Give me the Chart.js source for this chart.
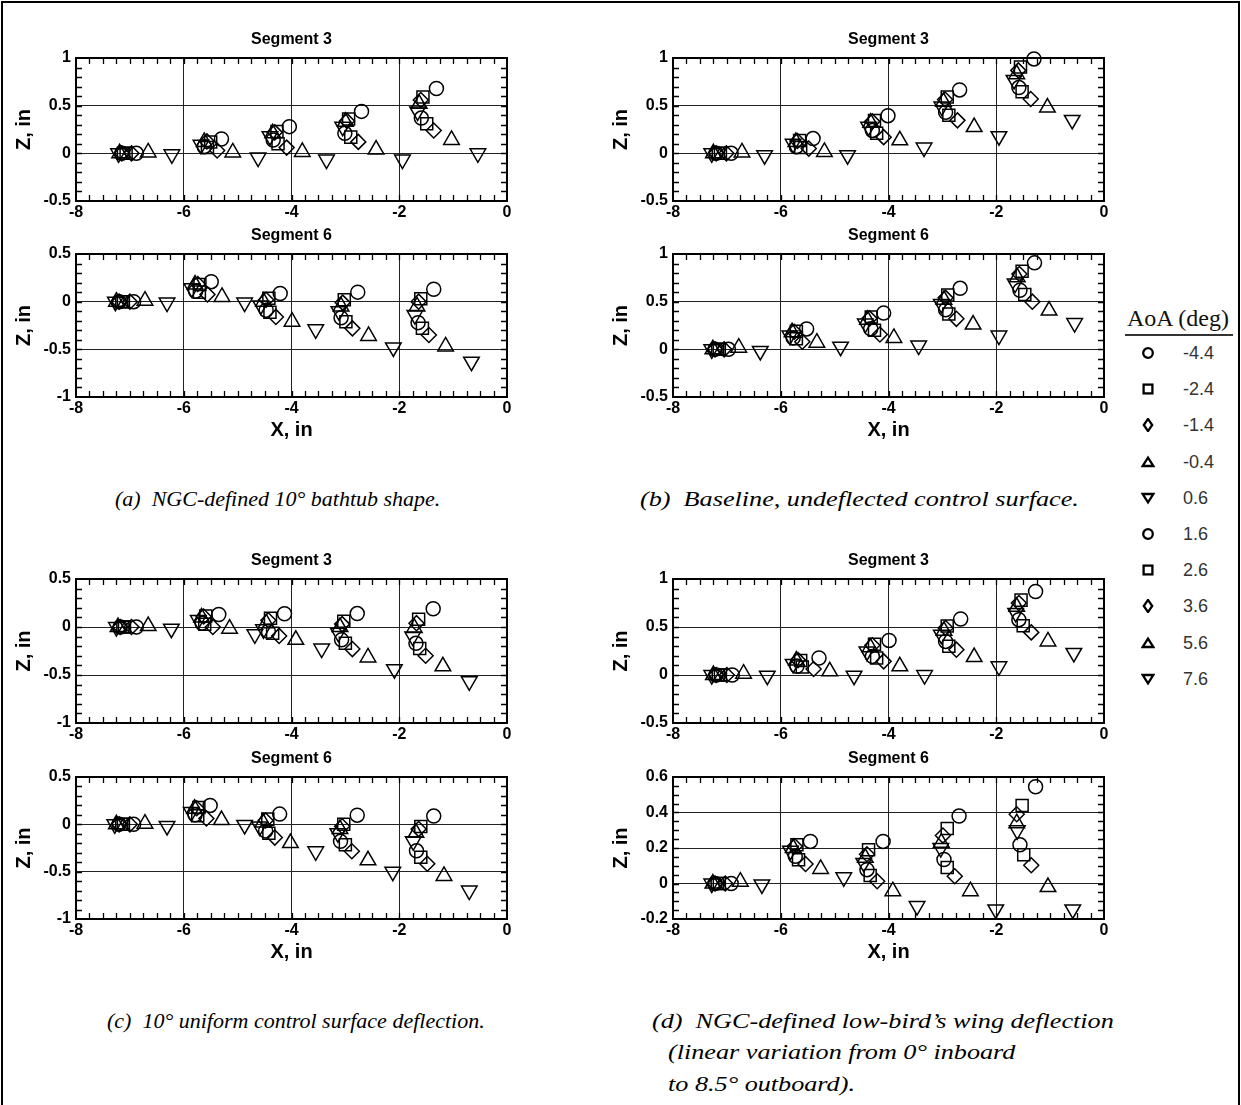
<!DOCTYPE html>
<html>
<head>
<meta charset="utf-8">
<script src="https://cdn.jsdelivr.net/npm/chart.js"></script>
<style>
  body { margin: 0; background: #fff; }
  #page { position: relative; width: 1241px; height: 1105px; overflow: hidden; background: #fff; }
  #frame { position: absolute; left: 1px; top: 1px; width: 1235px; height: 1120px; border: 2px solid #000; }
  canvas { position: absolute; }
  .caption { position: absolute; font-family: 'Liberation Serif', 'Times New Roman', serif; font-style: italic;
             font-size: 22px; line-height: 22px; white-space: pre; color: #000; }
  .caption.wide { transform: scaleX(1.19); transform-origin: 0 50%; }
  #legendTitle { position: absolute; left: 1127px; top: 306px; font-family: 'Liberation Serif', 'Times New Roman', serif;
                 font-size: 24px; line-height: 24px; color: #111; white-space: pre; }
  #legendRule { position: absolute; left: 1125px; top: 334px; width: 108px; height: 1.5px; background: #333; }
  .lgItem { position: absolute; left: 1141px; height: 18px; }
  .lgItem svg { position: absolute; left: 0; top: 2px; }
  .lgItem span { position: absolute; left: 42px; top: 0; font-family: 'Liberation Sans', Arial, sans-serif;
                 font-size: 18px; line-height: 18px; color: #333; white-space: pre; }
</style>
</head>
<body>
<div id="page">
  <div id="frame"></div>
  <canvas id="a3" width="509" height="194"></canvas>
  <canvas id="a6" width="509" height="213"></canvas>
  <canvas id="b3" width="509" height="194"></canvas>
  <canvas id="b6" width="509" height="213"></canvas>
  <canvas id="c3" width="509" height="194"></canvas>
  <canvas id="c6" width="509" height="212"></canvas>
  <canvas id="d3" width="509" height="194"></canvas>
  <canvas id="d6" width="509" height="212"></canvas>

  <div id="legendTitle">AoA (deg)</div>
  <div id="legendRule"></div>
  <div id="legend"></div>

  <div class="caption" style="left:115px; top:488px;">(a)  NGC-defined 10° bathtub shape.</div>
  <div class="caption wide" style="left:640px; top:488px;">(b)  Baseline, undeflected control surface.</div>
  <div class="caption" style="left:107px; top:1010px;">(c)  10° uniform control surface deflection.</div>
  <div class="caption wide" style="left:652px; top:1010px;">(d)  NGC-defined low-bird’s wing deflection</div>
  <div class="caption wide" style="left:668px; top:1041px;">(linear variation from 0° inboard</div>
  <div class="caption wide" style="left:668px; top:1073px;">to 8.5° outboard).</div>
</div>

<script>
// angle of attack for each series (deg)
const aoa = [-4.4, -2.4, -1.4, -0.4, 0.6, 1.6, 2.6, 3.6, 5.6, 7.6];

// axis tick values
const xTicks = [-8, -6, -4, -2, 0];
const zTicksHigh = [-0.5, 0, 0.5, 1];
const zTicksLow = [-1, -0.5, 0, 0.5];
const zTicksFine = [-0.2, 0, 0.2, 0.4, 0.6];

// (a) NGC bathtub shape -- one row per AoA, one column per target station
const bathtubSeg3X = [
  [-6.88, -5.30, -4.04, -2.70, -1.31],
  [-7.12, -5.50, -4.27, -2.94, -1.56],
  [-7.15, -5.57, -4.31, -2.97, -1.60],
  [-7.19, -5.62, -4.35, -3.00, -1.63],
  [-7.21, -5.68, -4.40, -3.05, -1.66],
  [-7.15, -5.62, -4.34, -3.01, -1.59],
  [-7.07, -5.56, -4.25, -2.90, -1.49],
  [-6.97, -5.38, -4.09, -2.76, -1.36],
  [-6.66, -5.09, -3.80, -2.43, -1.03],
  [-6.22, -4.62, -3.35, -1.94, -0.54]
];
const bathtubSeg3Z = [
  [0, 0.15, 0.28, 0.44, 0.68],
  [0, 0.12, 0.23, 0.36, 0.59],
  [0, 0.125, 0.22, 0.34, 0.56],
  [0, 0.12, 0.21, 0.33, 0.52],
  [0, 0.09, 0.18, 0.28, 0.44],
  [0, 0.07, 0.14, 0.21, 0.37],
  [0, 0.06, 0.10, 0.17, 0.31],
  [0, 0.03, 0.06, 0.12, 0.24],
  [0.01, 0.01, 0.015, 0.04, 0.14],
  [-0.01, -0.045, -0.065, -0.065, 0.0]
];
const bathtubSeg6X = [
  [-6.93, -5.49, -4.21, -2.77, -1.36],
  [-7.15, -5.70, -4.42, -3.02, -1.60],
  [-7.20, -5.74, -4.47, -3.05, -1.64],
  [-7.25, -5.79, -4.52, -3.08, -1.67],
  [-7.27, -5.85, -4.57, -3.12, -1.71],
  [-7.20, -5.78, -4.47, -3.08, -1.65],
  [-7.12, -5.71, -4.40, -2.99, -1.57],
  [-7.00, -5.56, -4.29, -2.87, -1.45],
  [-6.72, -5.29, -3.99, -2.57, -1.14],
  [-6.31, -4.87, -3.55, -2.11, -0.66]
];
const bathtubSeg6Z = [
  [0, 0.21, 0.086, 0.10, 0.13],
  [0, 0.18, 0.035, 0.02, 0.03],
  [0, 0.185, 0.02, -0.01, 0.0],
  [0, 0.18, 0.0, -0.05, -0.05],
  [0, 0.14, -0.04, -0.10, -0.14],
  [0, 0.11, -0.09, -0.17, -0.22],
  [0, 0.10, -0.11, -0.21, -0.28],
  [0, 0.076, -0.16, -0.28, -0.35],
  [0.01, 0.05, -0.21, -0.36, -0.47],
  [-0.01, -0.01, -0.29, -0.48, -0.63]
];

// (b) baseline, undeflected
const baselineSeg3X = [
  [-6.92, -5.40, -4.01, -2.68, -1.30],
  [-7.16, -5.65, -4.26, -2.91, -1.55],
  [-7.20, -5.69, -4.30, -2.95, -1.59],
  [-7.25, -5.72, -4.33, -2.98, -1.62],
  [-7.28, -5.77, -4.37, -3.01, -1.67],
  [-7.20, -5.71, -4.30, -2.94, -1.58],
  [-7.12, -5.63, -4.22, -2.88, -1.52],
  [-7.01, -5.48, -4.09, -2.72, -1.36],
  [-6.72, -5.19, -3.79, -2.41, -1.05],
  [-6.30, -4.76, -3.34, -1.95, -0.59]
];
const baselineSeg3Z = [
  [0, 0.155, 0.395, 0.665, 0.99],
  [0, 0.135, 0.345, 0.59, 0.905],
  [0, 0.13, 0.335, 0.565, 0.87],
  [0, 0.12, 0.32, 0.54, 0.83],
  [0, 0.10, 0.28, 0.49, 0.77],
  [0, 0.07, 0.24, 0.43, 0.69],
  [0, 0.06, 0.21, 0.40, 0.645],
  [0, 0.05, 0.17, 0.346, 0.57],
  [0.01, 0.014, 0.136, 0.276, 0.48],
  [-0.02, -0.02, 0.06, 0.18, 0.35]
];
const baselineSeg6X = [
  [-6.97, -5.52, -4.09, -2.67, -1.29],
  [-7.17, -5.71, -4.32, -2.90, -1.52],
  [-7.22, -5.75, -4.35, -2.94, -1.57],
  [-7.26, -5.79, -4.39, -2.97, -1.61],
  [-7.28, -5.83, -4.43, -3.02, -1.65],
  [-7.22, -5.77, -4.33, -2.94, -1.56],
  [-7.14, -5.71, -4.26, -2.88, -1.47],
  [-7.05, -5.60, -4.16, -2.74, -1.33],
  [-6.78, -5.33, -3.90, -2.43, -1.02],
  [-6.38, -4.89, -3.44, -1.95, -0.545]
];
const baselineSeg6Z = [
  [0, 0.214, 0.38, 0.64, 0.907],
  [0, 0.19, 0.34, 0.57, 0.82],
  [0, 0.185, 0.325, 0.54, 0.79],
  [0, 0.18, 0.31, 0.52, 0.755],
  [0, 0.145, 0.27, 0.476, 0.69],
  [0, 0.12, 0.215, 0.414, 0.62],
  [0, 0.11, 0.20, 0.37, 0.575],
  [0, 0.08, 0.155, 0.32, 0.50],
  [0.017, 0.07, 0.12, 0.26, 0.407],
  [-0.017, 0.028, 0.04, 0.145, 0.276]
];

// (c) 10 deg uniform deflection
const uniformSeg3X = [
  [-6.88, -5.35, -4.13, -2.78, -1.37],
  [-7.13, -5.59, -4.39, -3.03, -1.64],
  [-7.18, -5.63, -4.43, -3.06, -1.68],
  [-7.22, -5.67, -4.47, -3.10, -1.72],
  [-7.25, -5.73, -4.52, -3.13, -1.75],
  [-7.18, -5.66, -4.43, -3.07, -1.69],
  [-7.10, -5.61, -4.35, -3.00, -1.62],
  [-6.97, -5.46, -4.23, -2.87, -1.51],
  [-6.66, -5.15, -3.92, -2.58, -1.19],
  [-6.23, -4.68, -3.44, -2.09, -0.70]
];
const uniformSeg3Z = [
  [0, 0.13, 0.138, 0.14, 0.19],
  [0, 0.114, 0.09, 0.06, 0.08],
  [0, 0.11, 0.07, 0.03, 0.04],
  [0, 0.10, 0.04, 0.0, -0.01],
  [0, 0.072, -0.024, -0.06, -0.10],
  [0, 0.04, -0.045, -0.134, -0.17],
  [0, 0.028, -0.066, -0.17, -0.224],
  [0, 0.0, -0.093, -0.23, -0.30],
  [0.01, -0.017, -0.134, -0.317, -0.41],
  [-0.017, -0.076, -0.224, -0.44, -0.566]
];
const uniformSeg6X = [
  [-6.93, -5.51, -4.22, -2.78, -1.36],
  [-7.15, -5.72, -4.44, -3.03, -1.60],
  [-7.20, -5.76, -4.48, -3.06, -1.64],
  [-7.25, -5.80, -4.53, -3.10, -1.69],
  [-7.28, -5.86, -4.59, -3.14, -1.74],
  [-7.20, -5.79, -4.48, -3.09, -1.68],
  [-7.12, -5.74, -4.42, -3.00, -1.60],
  [-7.00, -5.58, -4.31, -2.88, -1.48],
  [-6.72, -5.30, -4.02, -2.58, -1.17],
  [-6.31, -4.87, -3.55, -2.12, -0.70]
];
const uniformSeg6Z = [
  [0, 0.20, 0.108, 0.097, 0.087],
  [0, 0.177, 0.055, 0.0, -0.024],
  [0, 0.17, 0.04, -0.02, -0.05],
  [0, 0.165, 0.02, -0.05, -0.09],
  [0, 0.13, -0.024, -0.094, -0.18],
  [0, 0.10, -0.07, -0.18, -0.28],
  [0, 0.09, -0.094, -0.215, -0.347],
  [0, 0.062, -0.14, -0.285, -0.417],
  [0.007, 0.045, -0.198, -0.38, -0.545],
  [-0.017, -0.007, -0.285, -0.50, -0.70]
];

// (d) NGC low-bird's wing deflection
const lowBirdSeg3X = [
  [-6.90, -5.29, -3.99, -2.66, -1.27],
  [-7.16, -5.63, -4.26, -2.91, -1.54],
  [-7.20, -5.68, -4.30, -2.94, -1.58],
  [-7.25, -5.71, -4.34, -2.97, -1.62],
  [-7.28, -5.77, -4.40, -3.02, -1.64],
  [-7.20, -5.70, -4.30, -2.94, -1.58],
  [-7.12, -5.60, -4.22, -2.88, -1.50],
  [-7.00, -5.39, -4.09, -2.74, -1.35],
  [-6.69, -5.09, -3.79, -2.41, -1.04],
  [-6.25, -4.64, -3.33, -1.95, -0.56]
];
const lowBirdSeg3Z = [
  [0, 0.177, 0.36, 0.583, 0.87],
  [0, 0.15, 0.32, 0.51, 0.78],
  [0, 0.155, 0.31, 0.49, 0.75],
  [0, 0.15, 0.29, 0.46, 0.71],
  [0, 0.115, 0.246, 0.42, 0.646],
  [0, 0.09, 0.194, 0.35, 0.576],
  [0, 0.083, 0.177, 0.30, 0.514],
  [0, 0.0625, 0.142, 0.264, 0.444],
  [0.014, 0.038, 0.09, 0.1875, 0.35],
  [-0.007, -0.007, 0.0, 0.09, 0.23]
];
const lowBirdSeg6X = [
  [-6.92, -5.45, -4.10, -2.69, -1.27],
  [-7.18, -5.70, -4.37, -2.91, -1.52],
  [-7.22, -5.74, -4.40, -2.99, -1.62],
  [-7.26, -5.77, -4.43, -3.02, -1.62],
  [-7.28, -5.82, -4.46, -3.03, -1.61],
  [-7.22, -5.73, -4.40, -2.97, -1.56],
  [-7.14, -5.67, -4.34, -2.91, -1.49],
  [-7.03, -5.54, -4.21, -2.77, -1.35],
  [-6.75, -5.26, -3.92, -2.48, -1.04],
  [-6.35, -4.83, -3.47, -2.01, -0.58]
];
const lowBirdSeg6Z = [
  [0, 0.237, 0.237, 0.38, 0.545],
  [0, 0.218, 0.19, 0.31, 0.44],
  [0, 0.21, 0.165, 0.27, 0.39],
  [0, 0.20, 0.145, 0.23, 0.34],
  [0, 0.185, 0.116, 0.20, 0.30],
  [0, 0.153, 0.078, 0.135, 0.218],
  [0, 0.134, 0.045, 0.09, 0.162],
  [0, 0.11, 0.013, 0.041, 0.103],
  [0.01, 0.082, -0.043, -0.043, -0.02],
  [-0.005, 0.035, -0.127, -0.146, -0.146]
];

// symbol for each AoA
const markers = [
  { style: 'circle', r: 7, rot: 0 },
  { style: 'rect', r: 8.5, rot: 0 },
  { style: 'rectRot', r: 7.5, rot: 0 },
  { style: 'triangle', r: 9, rot: 0 },
  { style: 'triangle', r: 9, rot: 180 },
  { style: 'circle', r: 7, rot: 0 },
  { style: 'rect', r: 8.5, rot: 0 },
  { style: 'rectRot', r: 7.5, rot: 0 },
  { style: 'triangle', r: 9, rot: 0 },
  { style: 'triangle', r: 9, rot: 180 }
];

const FONT = "'Liberation Sans', Arial, Helvetica, sans-serif";
const Y_AXIS_W = 66;

// plot border plus inward minor ticks on all four sides
const frameTicks = {
  id: 'frameTicks',
  beforeDatasetsDraw(chart, args, opts) {
    const { ctx, chartArea: a, scales: { x, y } } = chart;
    ctx.save();
    ctx.strokeStyle = '#000';
    ctx.lineWidth = 1.3;
    ctx.beginPath();
    const nx = Math.round((x.max - x.min) / opts.xMinor);
    for (let i = 1; i < nx; i++) {
      const px = Math.round(x.getPixelForValue(x.min + i * opts.xMinor)) + 0.5;
      ctx.moveTo(px, a.bottom); ctx.lineTo(px, a.bottom - opts.len);
      ctx.moveTo(px, a.top); ctx.lineTo(px, a.top + opts.len);
    }
    const ny = Math.round((y.max - y.min) / opts.yMinor);
    for (let i = 1; i < ny; i++) {
      const py = Math.round(y.getPixelForValue(y.min + i * opts.yMinor)) + 0.5;
      ctx.moveTo(a.left, py); ctx.lineTo(a.left + opts.len, py);
      ctx.moveTo(a.right, py); ctx.lineTo(a.right - opts.len, py);
    }
    ctx.stroke();
    ctx.lineWidth = 2;
    ctx.strokeRect(a.left, a.top, a.right - a.left, a.bottom - a.top);
    ctx.restore();
  }
};

function buildDatasets(xs, zs) {
  return aoa.map((a, i) => ({
    label: String(a),
    data: xs[i].map((x, j) => ({ x: x, y: zs[i][j] })),
    showLine: false,
    clip: false,
    pointStyle: markers[i].style,
    pointRadius: markers[i].r,
    pointRotation: markers[i].rot,
    pointBorderColor: '#000',
    pointBackgroundColor: 'rgba(0,0,0,0)',
    pointBorderWidth: 1.5
  }));
}

function makePanel(p) {
  const canvas = document.getElementById(p.id);
  const xH = p.xTitle ? 46 : 24;
  canvas.style.left = (p.left - Y_AXIS_W) + 'px';
  canvas.style.top = (p.top - 28) + 'px';
  canvas.height = 28 + p.h + xH;

  new Chart(canvas.getContext('2d'), {
    type: 'scatter',
    data: { datasets: buildDatasets(p.xs, p.zs) },
    options: {
      responsive: false,
      animation: false,
      events: [],
      layout: { padding: { left: 0, right: 12, top: 0, bottom: 0 } },
      plugins: {
        legend: { display: false },
        tooltip: { enabled: false },
        title: {
          display: true, text: p.title, fullSize: false, color: '#000',
          font: { family: FONT, size: 16, weight: 'bold' },
          padding: { top: 0, bottom: 8.8 }
        },
        frameTicks: { xMinor: 0.25, yMinor: p.zMinor, len: 6 }
      },
      scales: {
        x: {
          type: 'linear',
          min: xTicks[0], max: xTicks[xTicks.length - 1],
          ticks: {
            stepSize: xTicks[1] - xTicks[0], autoSkip: false, padding: 2, color: '#000',
            font: { family: FONT, size: 16, weight: 'bold' },
            callback: v => String(+v.toFixed(2))
          },
          grid: { color: '#222', lineWidth: 1, drawTicks: false },
          border: { display: false },
          title: {
            display: p.xTitle, text: 'X, in', color: '#000',
            font: { family: FONT, size: 20, weight: 'bold' },
            padding: { top: 0, bottom: 1 }
          },
          afterFit: s => { s.height = xH; }
        },
        y: {
          type: 'linear',
          min: p.zt[0], max: p.zt[p.zt.length - 1],
          ticks: {
            stepSize: +(p.zt[1] - p.zt[0]).toFixed(3), autoSkip: false, padding: 5, color: '#000',
            font: { family: FONT, size: 16, weight: 'bold' },
            callback: v => String(+v.toFixed(2))
          },
          grid: { color: '#222', lineWidth: 1, drawTicks: false },
          border: { display: false },
          title: {
            display: true, text: 'Z, in', color: '#000',
            font: { family: FONT, size: 20, weight: 'bold' },
            padding: { top: 2, bottom: 0 }
          },
          afterFit: s => { s.width = Y_AXIS_W; }
        }
      }
    },
    plugins: [frameTicks]
  });
}

const panels = [
  { id: 'a3', left: 76, top: 58, h: 143, title: 'Segment 3', xs: bathtubSeg3X, zs: bathtubSeg3Z, zt: zTicksHigh, zMinor: 0.1, xTitle: false },
  { id: 'a6', left: 76, top: 254, h: 143, title: 'Segment 6', xs: bathtubSeg6X, zs: bathtubSeg6Z, zt: zTicksLow, zMinor: 0.1, xTitle: true },
  { id: 'b3', left: 673, top: 58, h: 143, title: 'Segment 3', xs: baselineSeg3X, zs: baselineSeg3Z, zt: zTicksHigh, zMinor: 0.1, xTitle: false },
  { id: 'b6', left: 673, top: 254, h: 143, title: 'Segment 6', xs: baselineSeg6X, zs: baselineSeg6Z, zt: zTicksHigh, zMinor: 0.1, xTitle: true },
  { id: 'c3', left: 76, top: 579, h: 144, title: 'Segment 3', xs: uniformSeg3X, zs: uniformSeg3Z, zt: zTicksLow, zMinor: 0.1, xTitle: false },
  { id: 'c6', left: 76, top: 777, h: 142, title: 'Segment 6', xs: uniformSeg6X, zs: uniformSeg6Z, zt: zTicksLow, zMinor: 0.1, xTitle: true },
  { id: 'd3', left: 673, top: 579, h: 144, title: 'Segment 3', xs: lowBirdSeg3X, zs: lowBirdSeg3Z, zt: zTicksHigh, zMinor: 0.1, xTitle: false },
  { id: 'd6', left: 673, top: 777, h: 142, title: 'Segment 6', xs: lowBirdSeg6X, zs: lowBirdSeg6Z, zt: zTicksFine, zMinor: 0.05, xTitle: true }
];
panels.forEach(makePanel);

// AoA legend, symbols as small SVG shapes
const legendShapes = {
  circle: '<circle cx="7" cy="7" r="4.8"/>',
  rect: '<rect x="2.6" y="2.6" width="8.8" height="8.8"/>',
  rectRot: '<polygon points="7,0.9 11.2,7 7,13.1 2.8,7"/>',
  triangle: '<polygon points="7,2.6 12.3,11 1.7,11"/>',
  inverted: '<polygon points="1.7,3 12.3,3 7,11.4"/>'
};
const legend = document.getElementById('legend');
aoa.forEach((a, i) => {
  const m = markers[i];
  const key = m.rot === 180 ? 'inverted' : m.style;
  const item = document.createElement('div');
  item.className = 'lgItem';
  item.style.top = (353 + 36.2 * i - 9) + 'px';
  item.innerHTML =
    '<svg width="14" height="14" viewBox="0 0 14 14" fill="none" stroke="#000" stroke-width="2.3">' +
    legendShapes[key] + '</svg><span>' + a.toFixed(1) + '</span>';
  legend.appendChild(item);
});
</script>
</body>
</html>
